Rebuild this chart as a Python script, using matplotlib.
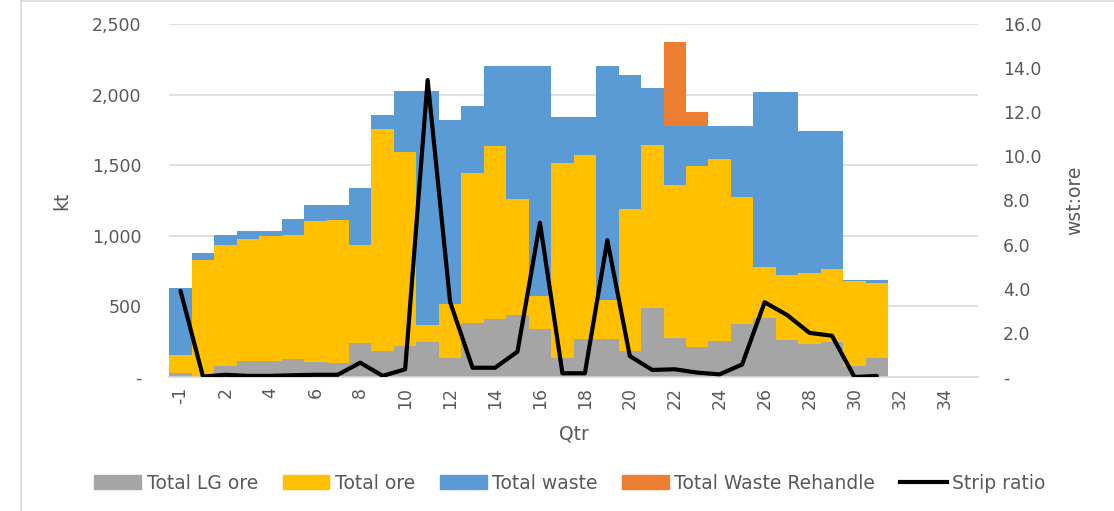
import matplotlib
matplotlib.use("Agg")
import matplotlib.pyplot as plt
from matplotlib.lines import Line2D
from matplotlib.patches import Patch
from matplotlib.ticker import FuncFormatter, MultipleLocator
import numpy as np

plt.rcParams['font.family'] = ['DejaVu Sans']

# Quarter labels (category axis)
quarters = ['-1', '1', '2', '3', '4', '5', '6', '7', '8', '9', '10', '11', '12',
            '13', '14', '15', '16', '17', '18', '19', '20', '21', '22', '23',
            '24', '25', '26', '27', '28', '29', '30', '31', '32', '33', '34', '35']

# Quarterly tonnages (kt)
lg_ore = [26, 0, 80, 115, 115, 125, 108, 99, 243, 187, 222, 250, 137, 385, 409,
          437, 338, 137, 267, 267, 186, 491, 278, 215, 257, 375, 420, 262, 234,
          250, 80, 137, 0, 0, 0, 0]
total_ore = [130, 829, 855, 862, 881, 881, 997, 1013, 692, 1572, 1369, 118, 382,
             1058, 1227, 826, 236, 1376, 1305, 278, 1006, 1152, 1082, 1279, 1287,
             897, 361, 460, 505, 515, 600, 531, 0, 0, 0, 0]
total_waste = [477, 51, 71, 57, 38, 113, 111, 104, 406, 97, 437, 1660, 1301, 476,
               567, 940, 1629, 326, 267, 1658, 947, 401, 418, 284, 234, 506, 1235,
               1294, 1003, 977, 7, 19, 0, 0, 0, 0]
waste_rehandle = [0, 0, 0, 0, 0, 0, 0, 0, 0, 0, 0, 0, 0, 0, 0, 0, 0, 0, 0, 0, 0,
                  0, 592, 97, 0, 0, 0, 0, 0, 0, 0, 0, 0, 0, 0, 0]

# Waste-to-ore strip ratio
strip_ratio = [3.9, 0.02, 0.1, 0.05, 0.05, 0.08, 0.1, 0.1, 0.65, 0.05, 0.35, 13.46,
               3.4, 0.42, 0.42, 1.15, 6.99, 0.17, 0.17, 6.2, 0.95, 0.32, 0.35, 0.2,
               0.12, 0.57, 3.39, 2.81, 2.0, 1.87, 0.0, 0.05]

C_LG = '#A5A5A5'
C_ORE = '#FFC000'
C_WASTE = '#5B9BD5'
C_REH = '#ED7D31'
TXT = '#595959'
GRID = '#D9D9D9'
FS = 12.5

fig = plt.figure(figsize=(11.14, 5.11), dpi=100)
ax = fig.add_axes([169.3 / 1114, 1 - 377 / 511, (978 - 169.3) / 1114, 353 / 511])

x = np.arange(len(quarters))
lg = np.array(lg_ore, float)
ore = np.array(total_ore, float)
waste = np.array(total_waste, float)
reh = np.array(waste_rehandle, float)

ax.bar(x, lg, width=1.0, color=C_LG, linewidth=0, zorder=2)
ax.bar(x, ore, width=1.0, bottom=lg, color=C_ORE, linewidth=0, zorder=2)
ax.bar(x, waste, width=1.0, bottom=lg + ore, color=C_WASTE, linewidth=0, zorder=2)
ax.bar(x, reh, width=1.0, bottom=lg + ore + waste, color=C_REH, linewidth=0, zorder=2)

ax.set_xlim(-0.5, len(quarters) - 0.5)
ax.set_ylim(0, 2500)
ax.yaxis.set_major_locator(MultipleLocator(500))
ax.yaxis.set_major_formatter(FuncFormatter(lambda v, p: '-' if v == 0 else f'{v:,.0f}'))
ax.grid(axis='y', color=GRID, linewidth=1.2, zorder=0)
ax.set_axisbelow(True)
for s in ['top', 'right', 'left']:
    ax.spines[s].set_visible(False)
ax.spines['bottom'].set_color(GRID)
ax.spines['bottom'].set_linewidth(1.2)

ax.set_xticks(x[::2])
ax.set_xticklabels(quarters[::2], rotation=90, va='top', ha='center')
ax.tick_params(axis='x', length=0, pad=7, labelsize=FS, labelcolor=TXT)
ax.tick_params(axis='y', length=0, pad=20, labelsize=FS, labelcolor=TXT)
ax.set_xlabel('Qtr', fontsize=FS + 1, color=TXT, labelpad=11)
ax.set_ylabel('kt', fontsize=FS + 1, color=TXT, labelpad=15)

ax2 = ax.twinx()
ax2.plot(np.arange(len(strip_ratio)), strip_ratio, color='black', linewidth=3.0,
         solid_joinstyle='round', solid_capstyle='round', zorder=5)
ax2.set_ylim(0, 16)
ax2.yaxis.set_major_locator(MultipleLocator(2))
ax2.yaxis.set_major_formatter(FuncFormatter(lambda v, p: '-' if v == 0 else f'{v:.1f}'))
ax2.tick_params(axis='y', length=0, pad=18, labelsize=FS, labelcolor=TXT)
for s in ['top', 'right', 'left', 'bottom']:
    ax2.spines[s].set_visible(False)
ax2.set_ylabel('wst:ore', fontsize=FS + 1, color=TXT, rotation=90, labelpad=17)

handles = [Patch(color=C_LG, label='Total LG ore'),
           Patch(color=C_ORE, label='Total ore'),
           Patch(color=C_WASTE, label='Total waste'),
           Patch(color=C_REH, label='Total Waste Rehandle'),
           Line2D([], [], color='black', linewidth=3.0, label='Strip ratio')]
leg = fig.legend(handles=handles, loc='center', bbox_to_anchor=(570 / 1114, 1 - 483 / 511),
                 ncol=5, frameon=False, fontsize=13.5, handlelength=2.5,
                 handletextpad=0.3, columnspacing=1.3)
for t in leg.get_texts():
    t.set_color(TXT)

# chart area border
fig.add_artist(Line2D([20.5 / 1114, 20.5 / 1114], [0, 1 - 1.5 / 511],
                      transform=fig.transFigure, color=GRID, linewidth=1.2))
fig.add_artist(Line2D([20.5 / 1114, 1], [1 - 1.5 / 511, 1 - 1.5 / 511],
                      transform=fig.transFigure, color=GRID, linewidth=1.2))

fig.savefig('out.png', dpi=100)
